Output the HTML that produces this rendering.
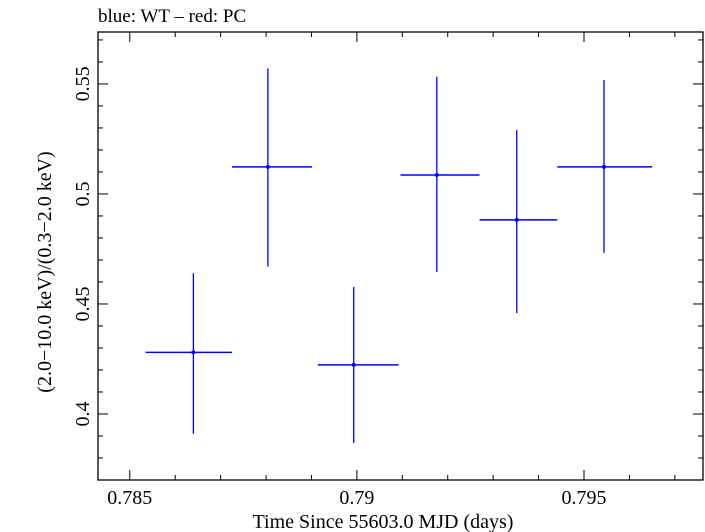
<!DOCTYPE html>
<html><head><meta charset="utf-8"><style>
body{margin:0;background:#fff;}
svg{display:block;font-family:"Liberation Serif",serif;}
</style></head><body>
<svg id="chart" width="705" height="532" xmlns="http://www.w3.org/2000/svg">
<text x="98" y="22" font-size="19">blue: WT – red: PC</text>
<rect x="98" y="32" width="605" height="448" fill="none" stroke="#000" stroke-width="1.3"/>
<g id="ticks"></g>
<g id="marks"></g>
<text x="383" y="528" font-size="20" text-anchor="middle">Time Since 55603.0 MJD (days)</text>
<text transform="translate(51,272) rotate(-90)" font-size="20" text-anchor="middle">(2.0−10.0 keV)/(0.3−2.0 keV)</text>
</svg>
<script>
const xCenters=[0.7864,0.78804,0.78993,0.79176,0.79352,0.79544];
const xErrLo=[0.78535,0.78725,0.78914,0.79096,0.79270,0.79441];
const xErrHi=[0.78725,0.78901,0.79092,0.79270,0.79441,0.79650];
const yValues=[0.428,0.5123,0.4223,0.5086,0.4882,0.5123];
const yErrHi=[0.464,0.557,0.4577,0.5532,0.529,0.5518];
const yErrLo=[0.391,0.467,0.3868,0.4645,0.4459,0.4732];
const xTickLabels=["0.785","0.79","0.795"];
const xTickValues=[0.785,0.79,0.795];
const yTickLabels=["0.4","0.45","0.5","0.55"];
const yTickValues=[0.4,0.45,0.5,0.55];
const L=98,R=703,T=32,B=480,X0=0.7843,X1=0.79762,Y0=0.37,Y1=0.5736;
const sx=v=>L+(v-X0)/(X1-X0)*(R-L);
const sy=v=>B-(v-Y0)/(Y1-Y0)*(B-T);
const NS="http://www.w3.org/2000/svg";
const tg=document.getElementById('ticks'),mg=document.getElementById('marks'),svg=document.getElementById('chart');
function ln(g,x1,y1,x2,y2,c,w){const l=document.createElementNS(NS,'line');l.setAttribute('x1',x1);l.setAttribute('y1',y1);l.setAttribute('x2',x2);l.setAttribute('y2',y2);l.setAttribute('stroke',c);l.setAttribute('stroke-width',w);g.appendChild(l);return l;}
for(let i=0;i<=13;i++){const v=0.785+i*0.001;if(v>X1)break;const x=sx(v);const major=i%5===0;const len=major?10:5;
const a=ln(tg,x,B,x,B-len,'#000',1);
const b=ln(tg,x,T,x,T+len,'#000',1);}
for(let i=0;i<=20;i++){const v=0.37+i*0.01;if(v>Y1)break;const y=sy(v);const major=Math.abs(Math.round(v*100)%5)===0;const len=major?10:5;
const a=ln(tg,L,y,L+len,y,'#000',1);
const b=ln(tg,R,y,R-len,y,'#000',1);}
xTickValues.forEach((v,i)=>{const t=document.createElementNS(NS,'text');t.setAttribute('x',sx(v));t.setAttribute('y',504);t.setAttribute('font-size',20);t.setAttribute('text-anchor','middle');t.textContent=xTickLabels[i];


svg.appendChild(t);});
yTickValues.forEach((v,i)=>{const t=document.createElementNS(NS,'text');t.setAttribute('transform',`translate(89,${sy(v)}) rotate(-90)`);t.setAttribute('font-size',20);t.setAttribute('text-anchor','middle');t.textContent=yTickLabels[i];


svg.appendChild(t);});
xCenters.forEach((xc,i)=>{
const h=ln(mg,sx(xErrLo[i]),sy(yValues[i]),sx(xErrHi[i]),sy(yValues[i]),'#0000ff',1.5);


const v=ln(mg,sx(xc),sy(yErrHi[i]),sx(xc),sy(yErrLo[i]),'#0000ff',1.3);


const c=document.createElementNS(NS,'circle');c.setAttribute('cx',sx(xc));c.setAttribute('cy',sy(yValues[i]));c.setAttribute('r',2);c.setAttribute('fill','#0000ff');


mg.appendChild(c);});
</script>
</body></html>
